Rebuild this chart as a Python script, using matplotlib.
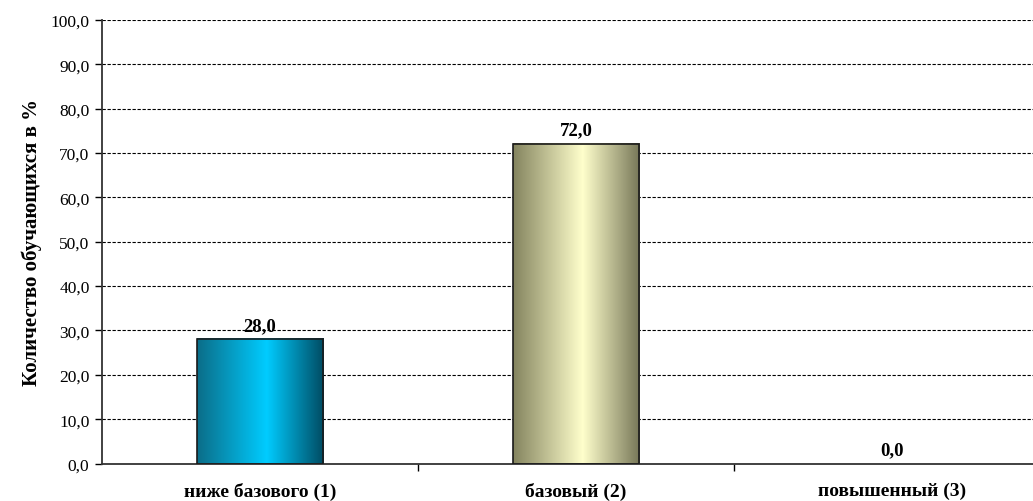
import matplotlib
matplotlib.use("Agg")
import matplotlib.pyplot as plt
import numpy as np
from matplotlib.colors import LinearSegmentedColormap

plt.rcParams['font.family'] = ['Liberation Serif', 'DejaVu Serif']

# Data
categories = ["ниже базового (1)", "базовый (2)", "повышенный (3)"]
values = [28.0, 72.0, 0.0]
y_label = "Количество обучающихся в %"

# cylinder-like colours for each bar: edge, centre, edge
bar_colors = [
    ["#0b6d88", "#00ccff", "#004b62"],
    ["#84845f", "#ffffcc", "#777758"],
    ["#84845f", "#ffffcc", "#777758"],
]

bar_width = 0.4


def fmt(v):
    return f"{v:.1f}".replace(".", ",")


fig = plt.figure(figsize=(10.33, 5.02), dpi=100)
ax = fig.add_axes([102 / 1033, 37.5 / 502, 948 / 1033, 443.5 / 502])

x = np.arange(len(categories))
ax.set_xlim(-0.5, len(categories) - 0.5)
ax.set_ylim(0, 100)

# gradient fill, one image per bar
grad = np.linspace(0, 1, 256).reshape(1, -1)
for xi, v, cols in zip(x, values, bar_colors):
    if v <= 0:
        continue
    cmap = LinearSegmentedColormap.from_list("bar", [(0, cols[0]), (0.55, cols[1]), (1, cols[2])])
    ax.imshow(grad, cmap=cmap, aspect="auto", zorder=2,
              extent=[xi - bar_width / 2, xi + bar_width / 2, 0, v])

edge = ["#1a1a1a" if v > 0 else "none" for v in values]
ax.bar(x, values, width=bar_width, fill=False, edgecolor=edge, linewidth=1.2, zorder=3)

# value labels
for xi, v in zip(x, values):
    ax.annotate(fmt(v), (xi, v), xytext=(0, 4), textcoords="offset points",
                ha="center", va="bottom", fontsize=13.5, fontweight="bold", zorder=4)

# grid
ax.set_yticks(np.arange(0, 101, 10))
ax.set_yticklabels([fmt(t) for t in np.arange(0, 101, 10)], fontsize=12.5)
ax.yaxis.grid(True, linestyle=(0, (3, 1.5)), color="black", linewidth=0.8)
ax.set_axisbelow(True)

# category ticks between bars, labels in the middle
ax.set_xticks([0.5, 1.5])
ax.set_xticklabels([])
ax.set_xticks(x, minor=True)
ax.set_xticklabels(categories, minor=True, fontsize=14, fontweight="bold")
ax.tick_params(axis="x", which="minor", length=0, pad=13)
ax.tick_params(axis="x", which="major", length=5, direction="out", width=1)
ax.tick_params(axis="y", length=5, direction="out", width=1, pad=4)

for s in ["top", "right"]:
    ax.spines[s].set_visible(False)
ax.spines["left"].set_color("#333333")
ax.spines["bottom"].set_color("#333333")
ax.spines["left"].set_linewidth(1.3)
ax.spines["bottom"].set_linewidth(1.3)

ax.set_ylabel(y_label, fontsize=15, fontweight="bold", labelpad=6)

fig.savefig("out.png", dpi=100)
